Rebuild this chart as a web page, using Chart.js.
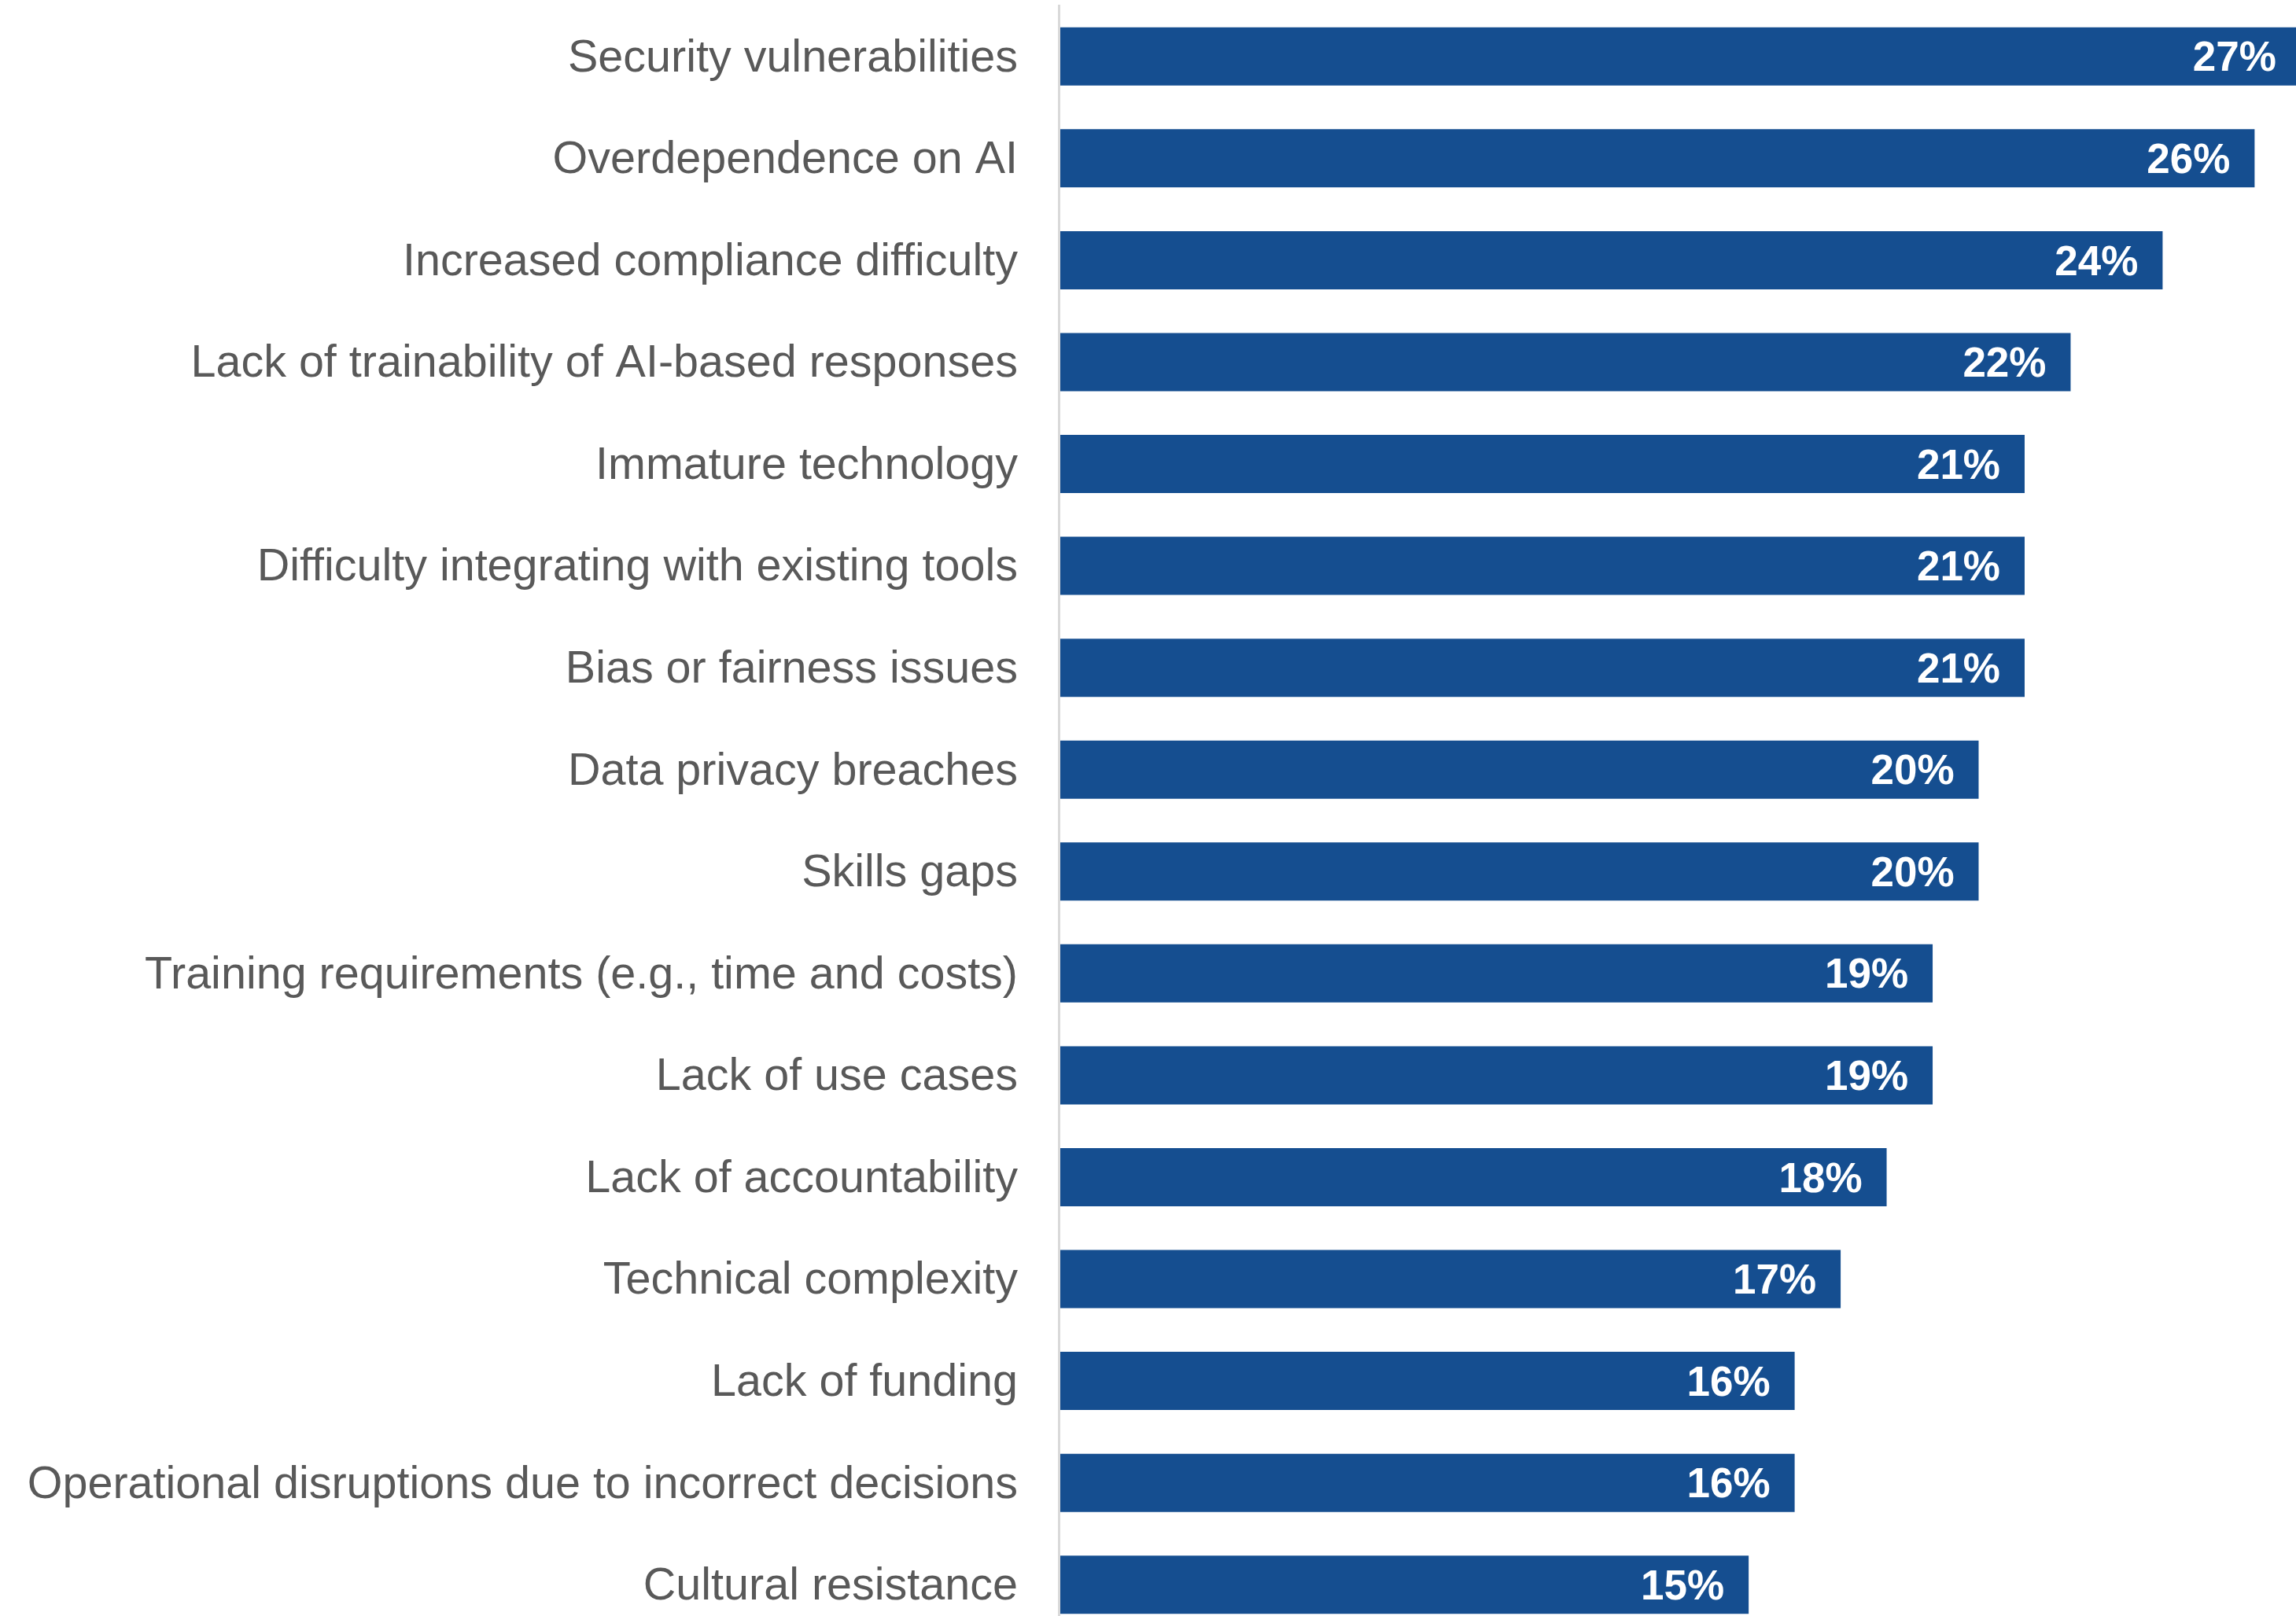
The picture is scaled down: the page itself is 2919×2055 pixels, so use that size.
<!DOCTYPE html>
<html>
<head>
<meta charset="utf-8">
<title>AI adoption concerns</title>
<script src="https://cdn.jsdelivr.net/npm/chart.js@4/dist/chart.umd.min.js"></script>
<style>
  html, body { margin: 0; padding: 0; background: #fff; overflow: hidden; }
  #wrap { width: 2919px; height: 2055px; overflow: hidden; }
  #chart { display: block; width: 2919px; height: 2080px; }
</style>
</head>
<body>
<div id="wrap"><canvas id="chart" width="2919" height="2080"></canvas></div>
<script>
  'use strict';

  const categories = [
    'Security vulnerabilities',
    'Overdependence on AI',
    'Increased compliance difficulty',
    'Lack of trainability of AI-based responses',
    'Immature technology',
    'Difficulty integrating with existing tools',
    'Bias or fairness issues',
    'Data privacy breaches',
    'Skills gaps',
    'Training requirements (e.g., time and costs)',
    'Lack of use cases',
    'Lack of accountability',
    'Technical complexity',
    'Lack of funding',
    'Operational disruptions due to incorrect decisions',
    'Cultural resistance'
  ];
  const shares = [27, 26, 24, 22, 21, 21, 21, 20, 20, 19, 19, 18, 17, 16, 16, 15];

  const BAR = '#154e90';
  const TEXT = '#595959';

  // white percentage inside the end of each bar
  const endLabels = {
    id: 'endLabels',
    afterDatasetsDraw(chart) {
      const ctx = chart.ctx;
      const meta = chart.getDatasetMeta(0);
      ctx.save();
      ctx.fillStyle = '#ffffff';
      ctx.font = 'bold 53px "Liberation Sans", Arial, sans-serif';
      ctx.textAlign = 'right';
      ctx.textBaseline = 'middle';
      meta.data.forEach((bar, i) => {
        ctx.fillText(shares[i] + '%', bar.x - 31, bar.y + 4);
      });
      ctx.restore();
    }
  };

  new Chart(document.getElementById('chart'), {
    type: 'bar',
    data: {
      labels: categories,
      datasets: [{
        data: shares,
        backgroundColor: BAR,
        borderWidth: 0,
        categoryPercentage: 0.571,
        barPercentage: 1
      }]
    },
    options: {
      indexAxis: 'y',
      responsive: false,
      devicePixelRatio: 1,
      animation: false,
      layout: { padding: { top: 7, right: 0, bottom: 0, left: 0 } },
      plugins: { legend: { display: false }, tooltip: { enabled: false } },
      scales: {
        x: {
          display: false,
          min: 0,
          max: 26.9
        },
        y: {
          // fixed label column; no extra room reserved above/below the bands
          afterFit: (scale) => {
            scale.width = 1346;
            scale.paddingTop = 0;
            scale.paddingBottom = 0;
          },
          grid: { display: false, drawTicks: false },
          border: { display: true, color: '#d9d9d9', width: 3, z: 1 },
          ticks: {
            color: TEXT,
            padding: 52,
            labelOffset: 3,
            font: { family: '"Liberation Sans", Arial, sans-serif', size: 57.5 }
          }
        }
      }
    },
    plugins: [endLabels]
  });
</script>
</body>
</html>
